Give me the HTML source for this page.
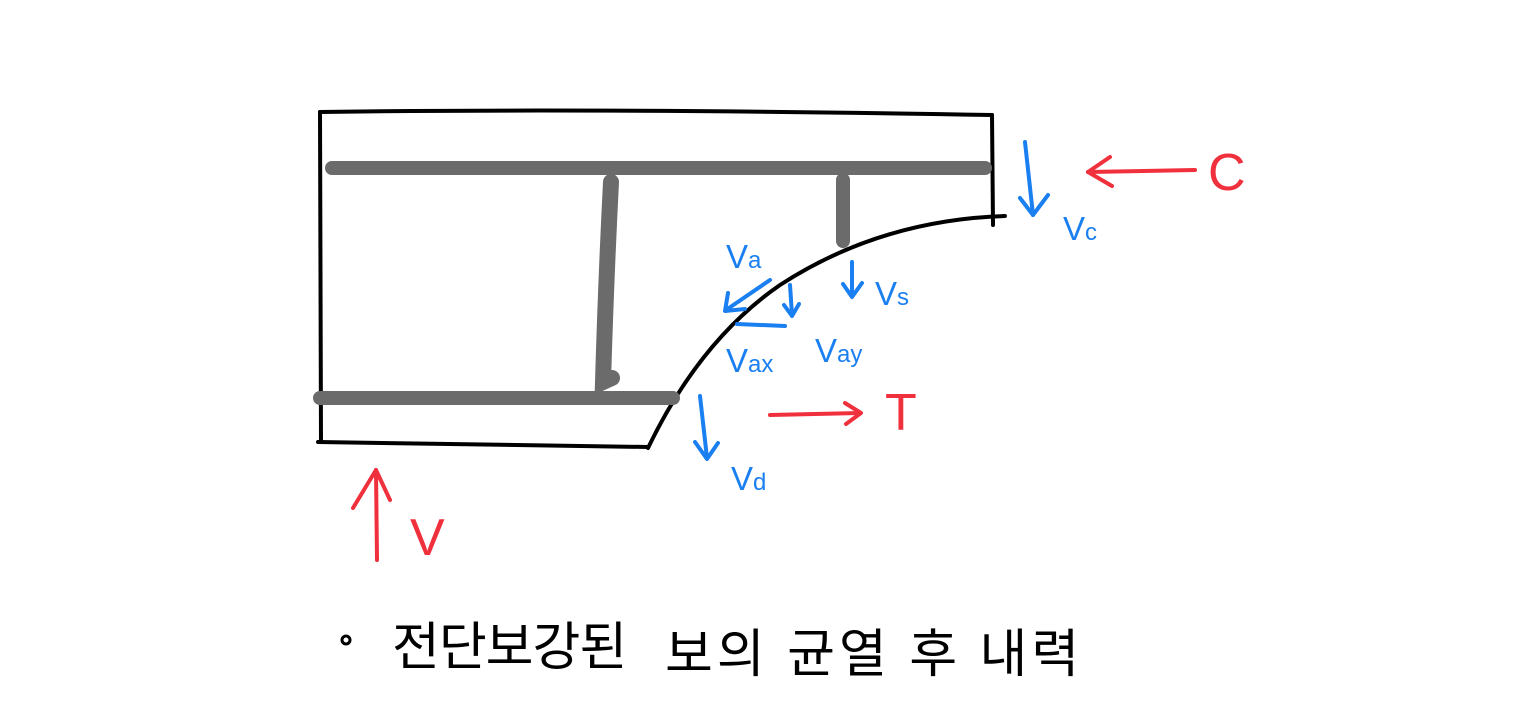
<!DOCTYPE html>
<html><head><meta charset="utf-8"><style>
html,body{margin:0;padding:0;background:#fff;}
svg{display:block;}
text{font-family:"Liberation Sans","Noto Sans CJK KR",sans-serif;}
</style></head><body>
<svg width="1536" height="714" viewBox="0 0 1536 714" xmlns="http://www.w3.org/2000/svg">
<g fill="none" stroke="#000" stroke-width="4" stroke-linecap="round" stroke-linejoin="round">
<path d="M320 112 Q600 108 992 115"/>
<path d="M320 112 L321 442"/>
<path d="M318 442 Q480 444 648 447"/>
<path d="M992 115 L993 225"/>
<path d="M648 448 Q700 340 780 285 Q880 220 1005 216"/>
</g>
<g fill="none" stroke="#6b6b6b" stroke-width="14" stroke-linecap="round">
<path d="M332 168 L985 168"/>
<path d="M320 398 L673 398"/>
<path d="M843 180 L843 241"/>
</g>
<path d="M611 182 Q606 280 603 382 L612 378" fill="none" stroke="#6b6b6b" stroke-width="16" stroke-linecap="round"/>
<g fill="none" stroke="#1a7ff0" stroke-width="4" stroke-linecap="round" stroke-linejoin="round">
<path d="M1025 142 L1033 215"/><path d="M1020 198 L1033 215 L1048 195"/>
<path d="M852 262 L852 296"/><path d="M843 284 L852 297 L862 283"/>
<path d="M770 280 L726 310"/><path d="M728 293 L725 311 L745 309"/>
<path d="M790 285 L792 315"/><path d="M784 305 L792 316 L799 304"/>
<path d="M785 326 L737 324"/>
<path d="M700 396 L707 458"/><path d="M695 442 L707 459 L718 443"/>
</g>
<g fill="#1a7ff0" font-size="33">
<text x="1063" y="240">V<tspan font-size="24">c</tspan></text>
<text x="875" y="305">V<tspan font-size="24">s</tspan></text>
<text x="726" y="268">V<tspan font-size="24">a</tspan></text>
<text x="726" y="372">V<tspan font-size="24">ax</tspan></text>
<text x="815" y="362">V<tspan font-size="24">ay</tspan></text>
<text x="731" y="490">V<tspan font-size="24">d</tspan></text>
</g>
<g fill="none" stroke="#f0303c" stroke-width="4" stroke-linecap="round" stroke-linejoin="round">
<path d="M1195 170 L1088 172"/><path d="M1110 157 L1088 172 L1112 186"/>
<path d="M770 415 L860 413"/><path d="M845 403 L861 413 L846 424"/>
<path d="M377 560 L376 470"/><path d="M353 508 L376 470 L390 500"/>
</g>
<g fill="#f0303c" font-size="52">
<text x="1208" y="190">C</text>
<text x="885" y="430">T</text>
<text x="410" y="555">V</text>
</g>
<circle cx="346" cy="640" r="4" fill="none" stroke="#000" stroke-width="3"/>
<text x="392" y="665" font-size="52" fill="#000" letter-spacing="-1">전단보강된</text>
<text x="665" y="672" font-size="52" fill="#000" letter-spacing="4">보의 균열 후 내력</text>
</svg>
</body></html>
